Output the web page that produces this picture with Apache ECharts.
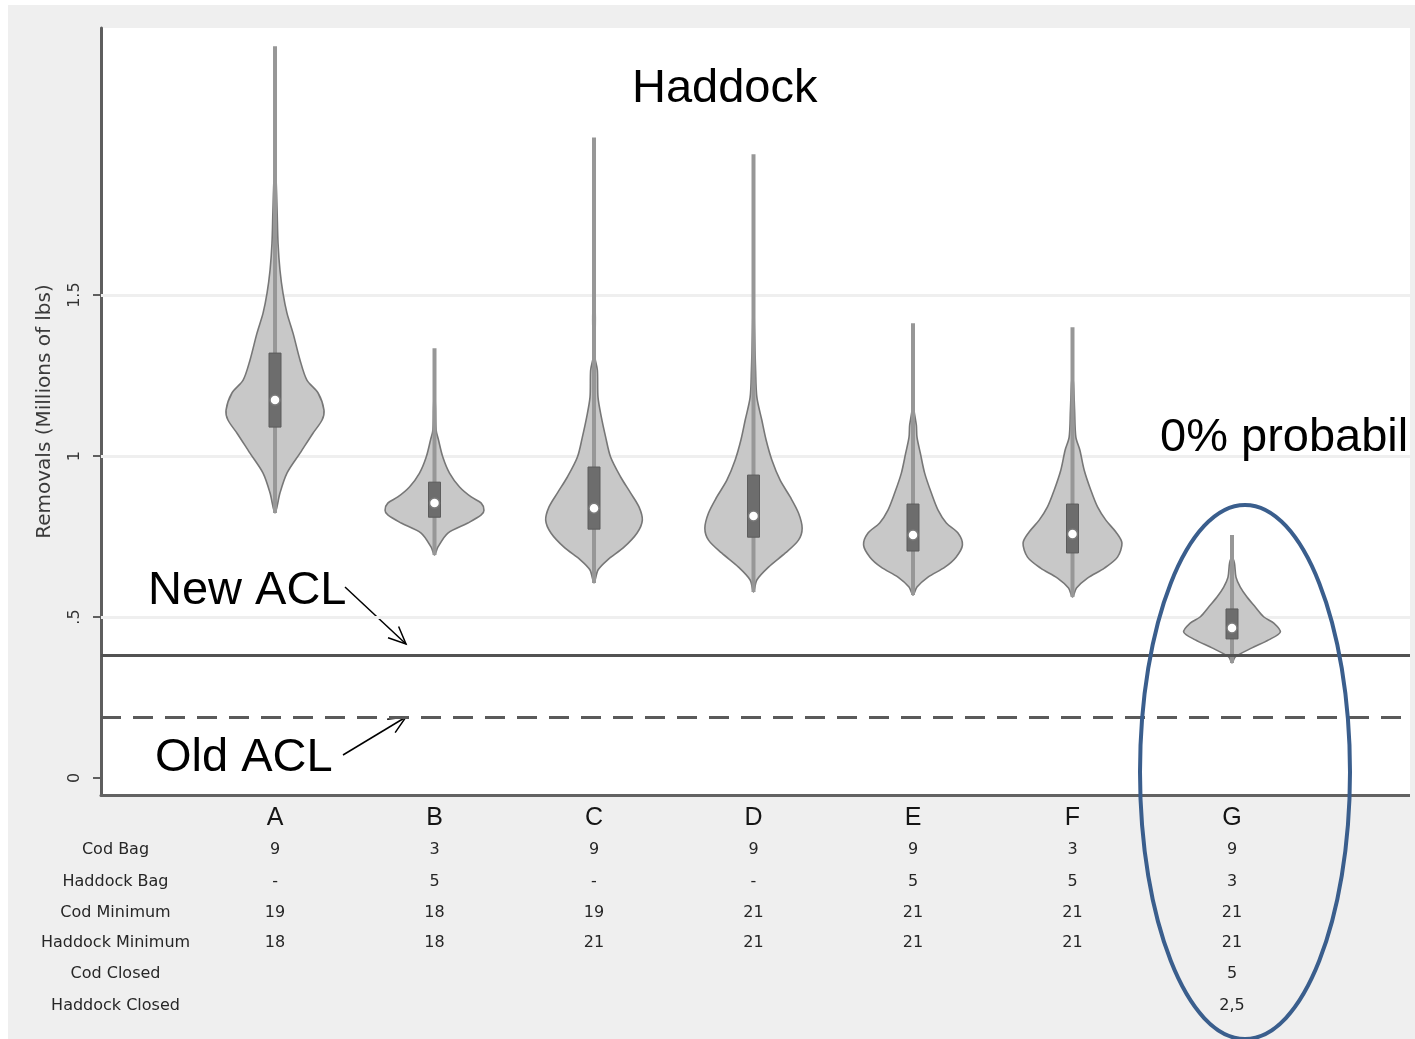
<!DOCTYPE html>
<html>
<head>
<meta charset="utf-8">
<title>Haddock removals by management option</title>
<script src="https://cdn.jsdelivr.net/npm/echarts@6/dist/echarts.min.js"></script>
<style>
  html, body { margin: 0; padding: 0; background: #ffffff; }
  #chart { width: 1415px; height: 1039px; }
</style>
</head>
<body>
<div id="chart"></div>
<script>
// Management options (x positions 1..7)
const categories = ['A', 'B', 'C', 'D', 'E', 'F', 'G'];

// Box-plot summaries of simulated removals (millions of lbs)
const whiskerLow  = [0.823, 0.693, 0.606, 0.578, 0.568, 0.562, 0.357];
const whiskerHigh = [2.273, 1.335, 1.990, 1.938, 1.413, 1.400, 0.755];
const q1          = [1.090, 0.810, 0.773, 0.748, 0.705, 0.699, 0.432];
const median      = [1.174, 0.854, 0.838, 0.814, 0.755, 0.758, 0.466];
const q3          = [1.320, 0.919, 0.966, 0.941, 0.851, 0.851, 0.525];

// Kernel density outlines: [removals, half-width in category units]
const densityA = [[0.823,0],[0.885,0.031],[0.947,0.075],[1.009,0.157],[1.071,0.238],[1.112,0.295],[1.143,0.307],[1.196,0.270],[1.236,0.200],[1.298,0.157],[1.382,0.113],[1.444,0.075],[1.506,0.050],[1.578,0.031],[1.661,0.019],[1.764,0.013],[1.866,0.006],[1.888,0]];
const densityB = [[0.693,0],[0.717,0.021],[0.761,0.084],[0.792,0.209],[0.817,0.293],[0.832,0.310],[0.854,0.293],[0.873,0.230],[0.904,0.157],[0.947,0.094],[0.997,0.052],[1.050,0.025],[1.081,0.010],[1.150,0.006],[1.210,0]];
const densityC = [[0.606,0],[0.646,0.025],[0.677,0.084],[0.717,0.188],[0.761,0.270],[0.801,0.303],[0.842,0.282],[0.885,0.230],[0.935,0.167],[0.997,0.104],[1.059,0.073],[1.121,0.046],[1.183,0.025],[1.267,0.021],[1.307,0.006],[1.432,0.008],[1.525,0]];
const densityD = [[0.578,0],[0.615,0.021],[0.655,0.094],[0.699,0.200],[0.739,0.282],[0.776,0.305],[0.823,0.282],[0.873,0.230],[0.925,0.167],[0.988,0.115],[1.050,0.079],[1.112,0.052],[1.183,0.021],[1.267,0.013],[1.391,0.006],[1.516,0]];
const densityE = [[0.568,0],[0.593,0.025],[0.624,0.094],[0.655,0.200],[0.686,0.270],[0.724,0.310],[0.761,0.282],[0.792,0.209],[0.832,0.157],[0.885,0.115],[0.947,0.073],[1.009,0.046],[1.059,0.025],[1.096,0.021],[1.143,0.006],[1.196,0]];
const densityF = [[0.562,0],[0.590,0.025],[0.621,0.094],[0.652,0.200],[0.686,0.282],[0.730,0.310],[0.764,0.272],[0.801,0.209],[0.842,0.157],[0.894,0.115],[0.957,0.073],[1.019,0.046],[1.059,0.021],[1.143,0.013],[1.227,0.006],[1.245,0]];
const densityG = [[0.357,0],[0.376,0.021],[0.404,0.125],[0.429,0.230],[0.453,0.303],[0.481,0.262],[0.500,0.200],[0.531,0.146],[0.562,0.094],[0.593,0.052],[0.624,0.025],[0.668,0.015],[0.683,0]];
const densities = [densityA, densityB, densityC, densityD, densityE, densityF, densityG];

// Annual catch limits (millions of lbs)
const newACL = 0.378;
const oldACL = 0.194;

// Y axis labelled ticks and grid lines
const yTicks = [0, 0.5, 1, 1.5];
const yGrid = [0.5, 1, 1.5];

// Option settings table under the axis
const rowLabels = ['Cod Bag', 'Haddock Bag', 'Cod Minimum', 'Haddock Minimum', 'Cod Closed', 'Haddock Closed'];
const codBag         = ['9', '3', '9', '9', '9', '3', '9'];
const haddockBag     = ['-', '5', '-', '-', '5', '5', '3'];
const codMinimum     = ['19', '18', '19', '21', '21', '21', '21'];
const haddockMinimum = ['18', '18', '21', '21', '21', '21', '21'];
const codClosed      = ['', '', '', '', '', '', '5'];
const haddockClosed  = ['', '', '', '', '', '', '2,5'];
const tableRows = [codBag, haddockBag, codMinimum, haddockMinimum, codClosed, haddockClosed];

// Flatten the table into cells: label column sits at x = 0, options at 1..7
const tableCells = [];
rowLabels.forEach((label, r) => {
  tableCells.push({ x: 0, row: r, text: label });
  tableRows[r].forEach((t, i) => { if (t !== '') tableCells.push({ x: i + 1, row: r, text: t }); });
});
const rowY = [850, 882, 913, 943, 974, 1006];

const GRID_LEFT = 101, GRID_RIGHT = 5, GRID_TOP = 28, GRID_BOTTOM = 244;

function renderViolin(params, api) {
  const i = params.dataIndex;
  const xc = api.value(0);
  const prof = densities[i];
  const right = prof.map(([v, w]) => api.coord([xc + w, v]));
  const left = prof.slice().reverse().map(([v, w]) => api.coord([xc - w, v])).slice(1, -1);
  const pts = right.concat(left);
  const top = api.coord([xc, whiskerHigh[i]]);
  const bot = api.coord([xc, whiskerLow[i]]);
  const p1 = api.coord([xc, q1[i]]);
  const p3 = api.coord([xc, q3[i]]);
  const pm = api.coord([xc, median[i]]);
  return {
    type: 'group',
    children: [
      { type: 'polygon', shape: { points: pts, smooth: 0.3 },
        style: { fill: '#c8c8c8', stroke: '#777777', lineWidth: 1.6 } },
      { type: 'line', shape: { x1: top[0], y1: top[1], x2: bot[0], y2: bot[1] },
        style: { stroke: '#979797', lineWidth: 4 } },
      { type: 'rect', shape: { x: p3[0] - 6, y: p3[1], width: 12, height: p1[1] - p3[1] },
        style: { fill: '#6d6d6d', stroke: '#5c5c5c', lineWidth: 1 } },
      { type: 'circle', shape: { cx: pm[0], cy: pm[1], r: 5 },
        style: { fill: '#ffffff', stroke: '#7a7a7a', lineWidth: 1.5 } }
    ]
  };
}

function renderCell(params, api) {
  const cell = tableCells[params.dataIndex];
  const x = api.coord([api.value(0), 0])[0];
  return {
    type: 'text',
    x: x,
    y: rowY[cell.row],
    style: {
      text: cell.text, align: 'center', verticalAlign: 'middle',
      fontSize: 16, fontFamily: 'DejaVu Sans', fill: '#262626'
    }
  };
}

// Open arrowhead annotation from (x1,y1) pointing to (x2,y2)
function arrow(x1, y1, x2, y2) {
  const a = Math.atan2(y2 - y1, x2 - x1);
  const L = 19, s = 0.42;
  const h1 = [x2 - L * Math.cos(a - s), y2 - L * Math.sin(a - s)];
  const h2 = [x2 - L * Math.cos(a + s), y2 - L * Math.sin(a + s)];
  return {
    type: 'group',
    z: 50,
    children: [
      { type: 'line', shape: { x1, y1, x2, y2 }, style: { stroke: '#000', lineWidth: 1.5 } },
      { type: 'polyline', shape: { points: [h1, [x2, y2], h2] }, style: { stroke: '#000', lineWidth: 1.5, fill: null } }
    ]
  };
}

const bigText = (text, x, y) => ({
  type: 'text', x, y, z: 50,
  style: { text, fontSize: 47, fontFamily: 'Liberation Sans, Arial, sans-serif', fill: '#000', align: 'left', verticalAlign: 'middle' }
});

const chart = echarts.init(document.getElementById('chart'), null, { renderer: 'canvas' });

const option = {
  animation: false,
  backgroundColor: '#efefef',
  grid: {
    left: GRID_LEFT, right: GRID_RIGHT, top: GRID_TOP, bottom: GRID_BOTTOM,
    show: true, backgroundColor: '#ffffff', borderWidth: 0
  },
  xAxis: {
    type: 'value', min: -0.091, max: 8.116,
    splitLine: { show: false },
    axisTick: { show: false },
    axisLine: { show: true, onZero: false, lineStyle: { color: '#626262', width: 3 } },
    axisLabel: {
      customValues: [1, 2, 3, 4, 5, 6, 7],
      formatter: v => categories[v - 1],
      margin: 11, fontSize: 25, color: '#151515',
      fontFamily: "'Liberation Sans Narrow', 'Arial Narrow', 'Liberation Sans', sans-serif"
    }
  },
  yAxis: {
    type: 'value', min: -0.053, max: 2.33,
    name: 'Removals (Millions of lbs)',
    nameLocation: 'middle', nameRotate: 90, nameGap: 46,
    nameTextStyle: { fontSize: 20, fontFamily: 'DejaVu Sans', color: '#3a3a3a' },
    splitLine: { show: false },
    axisLine: { show: true, onZero: false, lineStyle: { color: '#5e5e5e', width: 3 } },
    axisTick: { show: true, customValues: yTicks, length: 8, lineStyle: { color: '#5e5e5e', width: 2 } },
    axisLabel: {
      customValues: yTicks, rotate: 90, margin: 18,
      formatter: v => String(v).replace(/^0\./, '.'),
      fontSize: 16, fontFamily: 'DejaVu Sans', color: '#333'
    }
  },
  series: [
    {
      // light grid lines behind the violins
      type: 'line', data: [], silent: true, z: 1,
      markLine: {
        silent: true, z: 1, symbol: ['none', 'none'], label: { show: false },
        lineStyle: { color: '#efefef', width: 3, type: 'solid' },
        data: yGrid.map(v => ({ yAxis: v }))
      }
    },
    {
      type: 'custom', name: 'violins',
      renderItem: renderViolin,
      encode: { x: 0, y: 1 },
      data: categories.map((c, i) => [i + 1, median[i]]),
      z: 3
    },
    {
      // catch limit reference lines, drawn over the violins
      type: 'line', data: [], silent: true, z: 10,
      markLine: {
        silent: true, z: 10, symbol: ['none', 'none'], label: { show: false },
        data: [
          { yAxis: newACL, lineStyle: { color: '#525252', width: 3, type: 'solid' } },
          { yAxis: oldACL, lineStyle: { color: '#5a5a5a', width: 3, type: [20, 12] } }
        ]
      }
    },
    {
      type: 'custom', name: 'table',
      renderItem: renderCell, clip: false,
      encode: { x: 0, y: 1 },
      data: tableCells.map(c => [c.x, 0]),
      z: 3
    }
  ],
  graphic: [
    { type: 'rect', shape: { x: 0, y: 0, width: 1415, height: 5 }, style: { fill: '#ffffff' }, z: 1 },
    { type: 'rect', shape: { x: 0, y: 0, width: 8, height: 1039 }, style: { fill: '#ffffff' }, z: 1 },
    bigText('Haddock', 632, 89),
    bigText('New ACL', 148, 591),
    bigText('Old ACL', 155, 758),
    bigText('0% probability', 1160, 438),
    arrow(345, 587, 406, 644),
    arrow(343, 755, 406, 717),
    { type: 'ellipse', shape: { cx: 1245, cy: 772, rx: 105, ry: 267 },
      style: { fill: null, stroke: '#3a5e8d', lineWidth: 4 }, z: 60 },
    { type: 'rect', shape: { x: 1410, y: 5, width: 5, height: 1034 }, style: { fill: '#efefef' }, z: 70 }
  ]
};

chart.setOption(option);
</script>
</body>
</html>
